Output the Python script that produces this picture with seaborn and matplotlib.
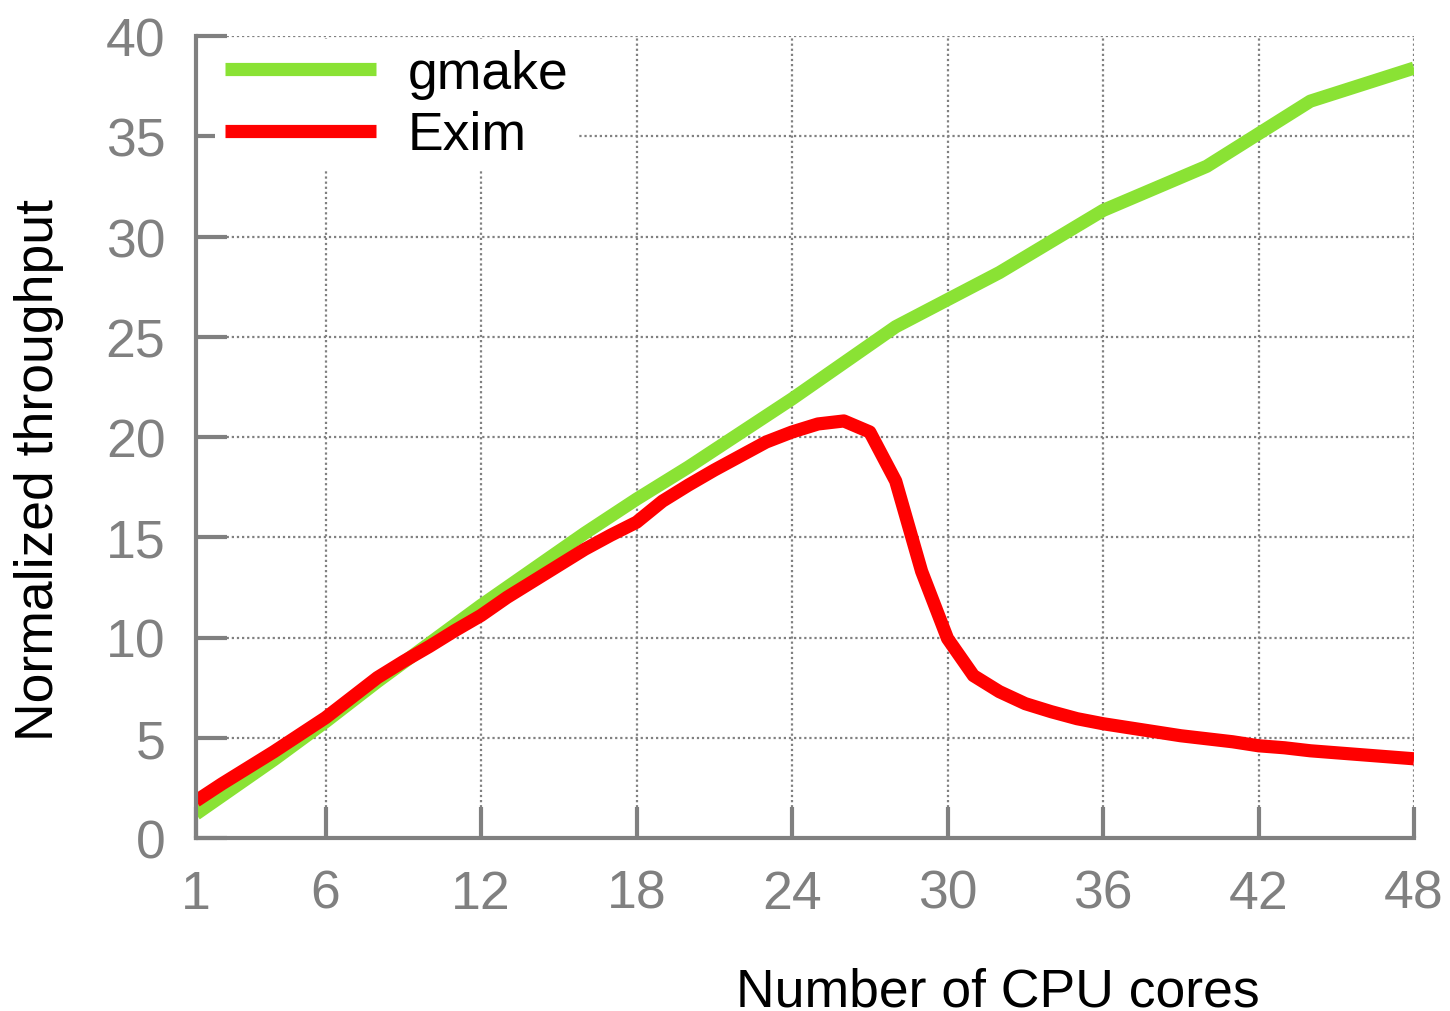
import matplotlib
matplotlib.use("Agg")
import matplotlib.pyplot as plt
import seaborn as sns
import pandas as pd

# ---- data ----
gmake_cores = [1, 2, 4, 6, 8, 10, 12, 14, 16, 18, 20, 22, 24, 26, 28, 32, 36, 40, 44, 48]
gmake_tput = [1.2, 2.1, 3.9, 5.8, 7.8, 9.7, 11.6, 13.4, 15.2, 16.9, 18.5, 20.2, 21.9, 23.7,
              25.5, 28.2, 31.3, 33.5, 36.75, 38.4]

exim_cores = list(range(1, 49))
exim_tput = [1.85, 2.7, 3.5, 4.3, 5.15, 6.0, 7.0, 8.0, 8.8, 9.55, 10.35, 11.1, 12.0, 12.8,
             13.6, 14.4, 15.1, 15.75, 16.8, 17.6, 18.35, 19.05, 19.75, 20.25, 20.65, 20.8,
             20.25, 17.8, 13.3, 9.95, 8.1, 7.3, 6.7, 6.3, 5.95, 5.7, 5.5, 5.3, 5.1, 4.95,
             4.8, 4.6, 4.5, 4.35, 4.25, 4.15, 4.05, 3.95]

x_ticks = [1, 6, 12, 18, 24, 30, 36, 42, 48]
y_ticks = [0, 5, 10, 15, 20, 25, 30, 35, 40]

series_names = ["gmake", "Exim"]
series_colors = ["#8ae234", "#ff0000"]

gmake_df = pd.DataFrame({"cores": gmake_cores, "tput": gmake_tput})
exim_df = pd.DataFrame({"cores": exim_cores, "tput": exim_tput})

# ---- style ----
sns.set_style("white")
plt.rcParams["font.family"] = ["Liberation Sans", "DejaVu Sans"]

fs = 38.5
fig = plt.figure(figsize=(14.5, 10.12), dpi=100)
ax = fig.add_axes([196 / 1450, 1 - 839 / 1012, 1218 / 1450, 802 / 1012])

lw = 9.5
sns.lineplot(data=gmake_df, x="cores", y="tput", ax=ax, color=series_colors[0],
             linewidth=lw, label=series_names[0], zorder=3)
sns.lineplot(data=exim_df, x="cores", y="tput", ax=ax, color=series_colors[1],
             linewidth=lw, label=series_names[1], zorder=4)
for ln in ax.get_lines():
    ln.set_solid_capstyle("butt")

ax.set_xlim(1, 48)
ax.set_ylim(0, 40)
ax.set_xticks(x_ticks)
ax.set_yticks(y_ticks)

grey = "#808080"
ax.grid(True, color=grey, linestyle=(0, (1, 1.3)), linewidth=1.6)
ax.set_axisbelow(True)

for side in ["top", "right"]:
    ax.spines[side].set_visible(False)
for side in ["left", "bottom"]:
    ax.spines[side].set_color(grey)
    ax.spines[side].set_linewidth(3)
    ax.spines[side].set_zorder(5)

ax.tick_params(axis="both", which="major", bottom=True, left=True, top=False, right=False,
               direction="in", length=22, width=3, color=grey,
               labelcolor=grey, labelsize=fs)
ax.tick_params(axis="x", pad=22)
ax.tick_params(axis="y", pad=22)
for t in ax.xaxis.get_major_ticks() + ax.yaxis.get_major_ticks():
    t.tick1line.set_zorder(5)

ax.set_xlabel("Number of CPU cores", fontsize=fs, color="black")
ax.set_ylabel("Normalized throughput", fontsize=fs, color="black")
ax.xaxis.set_label_coords(0.658, -0.16)
ax.yaxis.set_label_coords(-0.108, 0.46)

leg = ax.legend(loc="upper left", bbox_to_anchor=(0.0155, 0.9963), fontsize=fs,
                handlelength=2.84, handletextpad=0.58, labelspacing=0.22,
                frameon=True, facecolor="white", edgecolor="none", framealpha=1,
                borderpad=0.18, borderaxespad=0, labelcolor="black")
for h in leg.get_lines():
    h.set_linewidth(lw)
    h.set_solid_capstyle("butt")
leg.set_zorder(2.5)

fig.savefig("out.png", dpi=100, facecolor="white")
